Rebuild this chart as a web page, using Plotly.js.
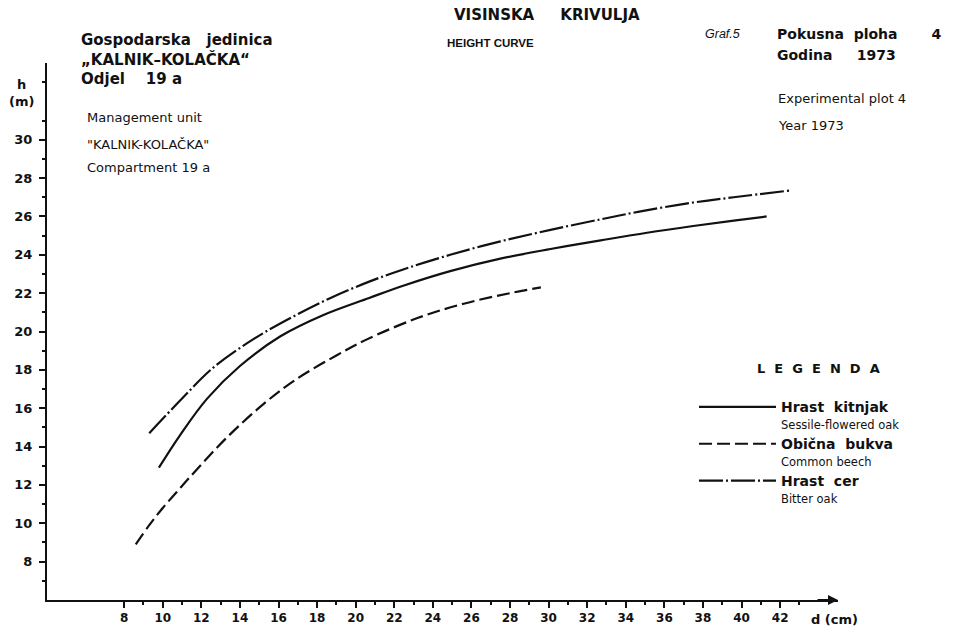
<!DOCTYPE html>
<html>
<head>
<meta charset="utf-8">
<script src="https://cdn.plot.ly/plotly-3.0.1.min.js"></script>
<style>html,body{margin:0;padding:0;background:#fff}#chart{width:968px;height:628px}</style>
</head>
<body>
<div id="chart"></div>
<script>
// Hrast kitnjak (Sessile-flowered oak) - middle curve
const kitnjakD = [9.8, 10.9, 12.3, 14.0, 16.1, 18.3, 20.7, 22.5, 24.9, 27.5, 30.1, 32.7, 35.1, 37.5, 39.6, 41.3];
const kitnjakH = [12.9, 14.6, 16.5, 18.2, 19.75, 20.85, 21.75, 22.4, 23.15, 23.8, 24.3, 24.75, 25.15, 25.5, 25.78, 26.0];
// Obična bukva (Common beech) - lower curve
const bukvaD = [8.6, 9.3, 10.0, 10.7, 11.4, 13.3, 15.2, 16.9, 19.0, 20.5, 23.2, 25.6, 28.0, 29.6];
const bukvaH = [8.9, 9.9, 10.8, 11.6, 12.4, 14.45, 16.2, 17.5, 18.75, 19.55, 20.7, 21.45, 22.0, 22.3];
// Hrast cer (Bitter oak) - upper curve
const cerD = [9.3, 10.9, 12.6, 14.7, 16.8, 18.7, 20.7, 22.5, 24.9, 27.5, 30.1, 32.7, 34.7, 37.2, 39.6, 42.5];
const cerH = [14.7, 16.4, 18.1, 19.6, 20.8, 21.75, 22.6, 23.25, 24.0, 24.7, 25.3, 25.85, 26.25, 26.68, 27.0, 27.35];

const xTicks = [8,10,12,14,16,18,20,22,24,26,28,30,32,34,36,38,40,42];
const xMinor = [9,11,13,15,17,19,21,23,25,27,29,31,33,35,37,39,41,43];
const yTicks = [8,10,12,14,16,18,20,22,24,26,28,30];
const yMinor = [7,9,11,13,15,17,19,21,23,25,27,29,31,33];

const seriesNames = [
  'Hrast\u00a0\u00a0kitnjak',
  'Obi\u010dna\u00a0\u00a0bukva',
  'Hrast\u00a0\u00a0cer'
];
const seriesEn = ['Sessile-flowered oak', 'Common beech', 'Bitter oak'];

const HR = 'DejaVu Sans, sans-serif';
const EN = 'Liberation Sans, Arial, sans-serif';
const ink = '#111';

function nm(i){
  return '<span style="font-size:14px">' + seriesNames[i] + '</span><br>' +
    '<span style="font-size:11.5px;font-weight:normal">' + seriesEn[i] + '</span>';
}

const traces = [
  {x: kitnjakD, y: kitnjakH, name: nm(0), mode: 'lines',
   line: {color: ink, width: 2.2, shape: 'spline', smoothing: 1, dash: 'solid'}},
  {x: bukvaD, y: bukvaH, name: nm(1), mode: 'lines',
   line: {color: ink, width: 2.2, shape: 'spline', smoothing: 1, dash: '13px,5px'}},
  {x: cerD, y: cerH, name: nm(2), mode: 'lines',
   line: {color: ink, width: 2.2, shape: 'spline', smoothing: 1, dash: '24px,3px,2px,3px'}}
];

const W = 791, H = 537, L = 47, T = 63;
function px(x){ return (x - L) / W; }
function py(y){ return (T + H - y) / H; }

function ann(text, x, y, opts){
  return Object.assign({text: text, xref: 'paper', yref: 'paper', x: px(x), y: py(y),
    showarrow: false, xanchor: 'left', yanchor: 'middle', align: 'left',
    font: {family: HR, size: 13, color: ink, weight: 'bold'}}, opts || {});
}
const enFont = {family: HR, size: 13, color: ink};
const hrFont = {family: HR, size: 14, color: ink, weight: 'bold'};

const annotations = [
  ann('VISINSKA\u00a0\u00a0\u00a0\u00a0\u00a0KRIVULJA', 547, 15, {xanchor: 'center', font: {family: HR, size: 15, color: ink, weight: 'bold'}}),
  ann('HEIGHT CURVE', 490, 43, {xanchor: 'center', font: {family: EN, size: 11.5, color: ink, weight: 'bold'}}),
  ann('Gospodarska\u00a0\u00a0\u00a0jedinica<br>\u201eKALNIK\u2013KOLA\u010cKA\u201c<br>Odjel\u00a0\u00a0\u00a0\u00a019\u00a0a', 79, 59, {font: {family: HR, size: 15, color: ink, weight: 'bold'}}),
  ann('Management unit', 85, 117, {font: enFont}),
  ann('"KALNIK-KOLA\u010cKA"', 85, 145, {font: enFont}),
  ann('Compartment 19 a', 85, 168, {font: enFont}),
  ann('<i>Graf.5</i>', 742, 34, {xanchor: 'right', font: {family: EN, size: 12.5, color: ink}}),
  ann('Pokusna\u00a0\u00a0ploha\u00a0\u00a0\u00a0\u00a0\u00a0\u00a0\u00a04', 775, 34, {font: hrFont}),
  ann('Godina\u00a0\u00a0\u00a0\u00a0\u00a01973', 775, 55, {font: hrFont}),
  ann('Experimental plot 4', 776, 98, {font: enFont}),
  ann('Year 1973', 776, 125, {font: enFont}),
  ann('h<br>(m)', 21, 93, {xanchor: 'center', align: 'center', font: {family: HR, size: 13, color: ink, weight: 'bold'}}),
  ann('d (cm)', 834, 619, {xanchor: 'center', font: {family: HR, size: 13, color: ink, weight: 'bold'}}),
  ann('L\u00a0\u00a0E\u00a0\u00a0G\u00a0\u00a0E\u00a0\u00a0N\u00a0\u00a0D\u00a0\u00a0A', 818, 368, {xanchor: 'center', font: {family: HR, size: 13, color: ink, weight: 'bold'}}),
  {xref: 'paper', yref: 'paper', x: 1.0, y: 0, ax: -22, ay: 0, axref: 'pixel', ayref: 'pixel',
   showarrow: true, arrowhead: 2, arrowsize: 1, arrowwidth: 2, arrowcolor: ink, text: ''}
];

const layout = {
  width: 968, height: 628,
  margin: {l: L, r: 968 - L - W, t: T, b: 628 - T - H, pad: 0},
  paper_bgcolor: '#fff', plot_bgcolor: '#fff',
  showlegend: true,
  legend: {x: px(694), y: py(392), xanchor: 'left', yanchor: 'top', itemwidth: 77, valign: 'top',
    bgcolor: 'rgba(0,0,0,0)', font: {family: HR, size: 13, color: ink, weight: 'bold'},
    itemclick: false, itemdoubleclick: false},
  xaxis: {range: [4, 45], showgrid: false, zeroline: false, showline: true, linecolor: ink, linewidth: 2,
    tickmode: 'array', tickvals: xTicks, ticktext: xTicks.map(String), ticks: 'outside', ticklen: 6, tickwidth: 2, tickcolor: ink,
    minor: {tickmode: 'array', tickvals: xMinor, ticks: 'outside', ticklen: 3, tickwidth: 2, tickcolor: ink, showgrid: false},
    tickfont: {family: HR, size: 12, color: ink, weight: 'bold'}, automargin: false, fixedrange: true},
  yaxis: {range: [6, 34], showgrid: false, zeroline: false, showline: true, linecolor: ink, linewidth: 2,
    tickmode: 'array', tickvals: yTicks, ticktext: yTicks.map(String), ticks: 'outside', ticklen: 6, tickwidth: 2, tickcolor: ink,
    minor: {tickmode: 'array', tickvals: yMinor, ticks: 'outside', ticklen: 3, tickwidth: 2, tickcolor: ink, showgrid: false},
    tickfont: {family: HR, size: 13, color: ink, weight: 'bold'}, ticklabelstandoff: 4, automargin: false, fixedrange: true},
  annotations: annotations
};

Plotly.newPlot('chart', traces, layout, {displayModeBar: false, staticPlot: true});
</script>
</body>
</html>
